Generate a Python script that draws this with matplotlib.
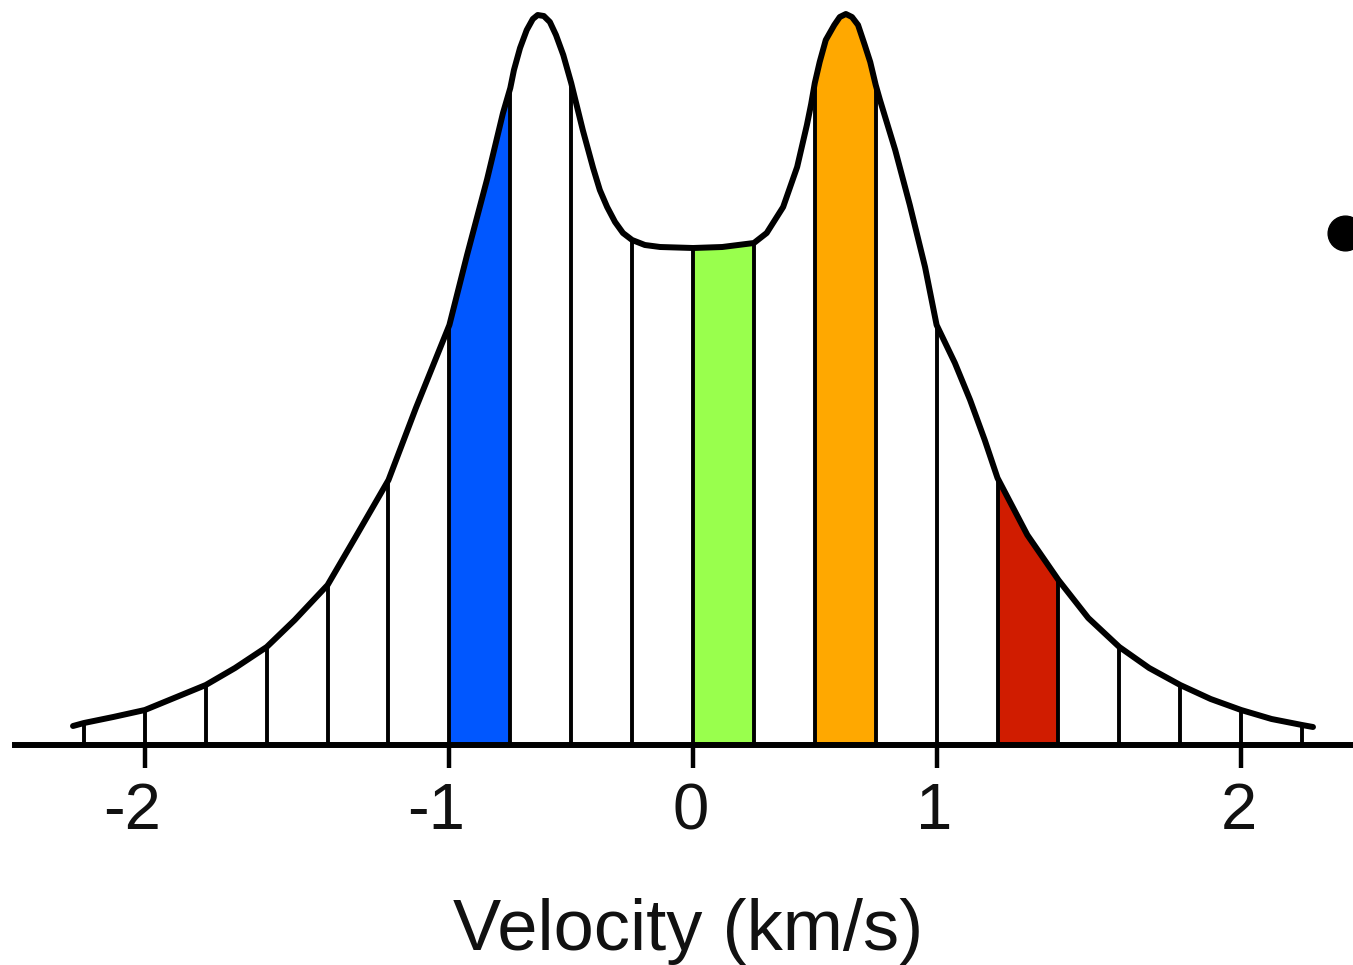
import numpy as np
import matplotlib
matplotlib.use('Agg')
import matplotlib.pyplot as plt

# line profile: x in channel units (one channel per bin), y in intensity
curve_ch = [-0.18, 0.0, 0.48, 1.0, 1.48, 2.0, 2.48, 3.0, 3.46, 4.0, 4.45, 5.0, 5.45, 6.0,
            6.29, 6.62, 6.88, 7.0, 7.06, 7.16, 7.27, 7.37, 7.45, 7.55, 7.65, 7.75, 7.87,
            8.0, 8.19, 8.36, 8.47, 8.59, 8.72, 8.85, 9.0, 9.21, 9.46, 10.0, 10.48, 11.0,
            11.21, 11.48, 11.71, 11.87, 11.94, 12.0, 12.08, 12.18, 12.32, 12.41, 12.51,
            12.61, 12.71, 12.82, 12.91, 13.0, 13.07, 13.32, 13.56, 13.81, 14.0, 14.30,
            14.55, 14.79, 15.0, 15.49, 16.0, 16.49, 17.0, 17.49, 18.0, 18.5, 19.0, 19.5,
            20.0, 20.18]
curve_h = [19, 22, 28, 35, 47, 60, 77, 98, 125, 160, 207, 265, 337, 420,
           490, 566, 632, 657, 675, 697, 715, 726, 730, 729, 723, 710, 690,
           662, 615, 577, 555, 538, 523, 512, 505, 500, 498, 497, 498, 502,
           512, 538, 578, 620, 641, 662, 683, 705, 720, 728, 731,
           728, 720, 700, 683, 660, 645, 595, 540, 478, 420, 382,
           345, 305, 267, 210, 165, 127, 98, 77, 60, 46, 35, 26,
           20, 18]

# channel boundaries
edges = [0, 1, 2, 3, 4, 5, 6, 7, 8, 9, 10, 11, 12, 13, 14, 15, 16, 17, 18, 19, 20]

# coloured channels (lower edge) and their colours
fill_lo = [6, 10, 12, 15]
fill_colors = ['#0057ff', '#99ff4d', '#ffa800', '#d01c00']

# velocity ticks sit on these channel edges
tick_pos = [1, 6, 10, 14, 19]
tick_lab = ['-2', '-1', '0', '1', '2']

ch = np.array(curve_ch, dtype=float)
h = np.array(curve_h, dtype=float)

fig = plt.figure(figsize=(13.53, 9.65), dpi=100)
ax = fig.add_axes([0, 0, 1, 1])
ax.set_xlim(-1.379, 20.837)
ax.set_ylim(-220, 745)

# coloured bins
for lo, c in zip(fill_lo, fill_colors):
    m = (ch >= lo) & (ch <= lo + 1)
    ax.fill_between(ch[m], 0, h[m], color=c, lw=0, zorder=1)

# vertical channel lines up to the profile
em = np.isin(ch, np.array(edges, dtype=float))
ax.vlines(ch[em], 0, h[em], colors='black', lw=2.8, zorder=3)

# the profile itself
ax.plot(ch, h, color='black', lw=4.3, zorder=4, solid_capstyle='round',
        solid_joinstyle='round')

# axis
for s in ['left', 'right', 'top']:
    ax.spines[s].set_visible(False)
ax.spines['bottom'].set_position(('data', 0))
ax.spines['bottom'].set_linewidth(4.3)
ax.spines['bottom'].set_bounds(-1.13, 20.837)
ax.set_yticks([])
ax.set_xticks(tick_pos)
ax.tick_params(axis='x', direction='out', length=16.5, width=3.2,
               labelbottom=False)

# tick labels: digit centred on the tick, minus sign hanging to the left
for p, lab in zip(tick_pos, tick_lab):
    ax.annotate(lab, xy=(p, 0), xycoords='data', xytext=(16, -84),
                textcoords='offset pixels', ha='right', va='baseline',
                fontsize=47, family='Liberation Sans', color='#111111')

fig.text(688 / 1353, 15 / 965, 'Velocity (km/s)', ha='center', va='baseline',
         fontsize=52, family='Liberation Sans', color='#111111')

# slide bullet peeking in at the right edge
ax.plot([1345 / 1353], [1 - 233 / 965], 'o', color='black', ms=25,
        transform=fig.transFigure, clip_on=False)

fig.savefig('out.png', dpi=100)
